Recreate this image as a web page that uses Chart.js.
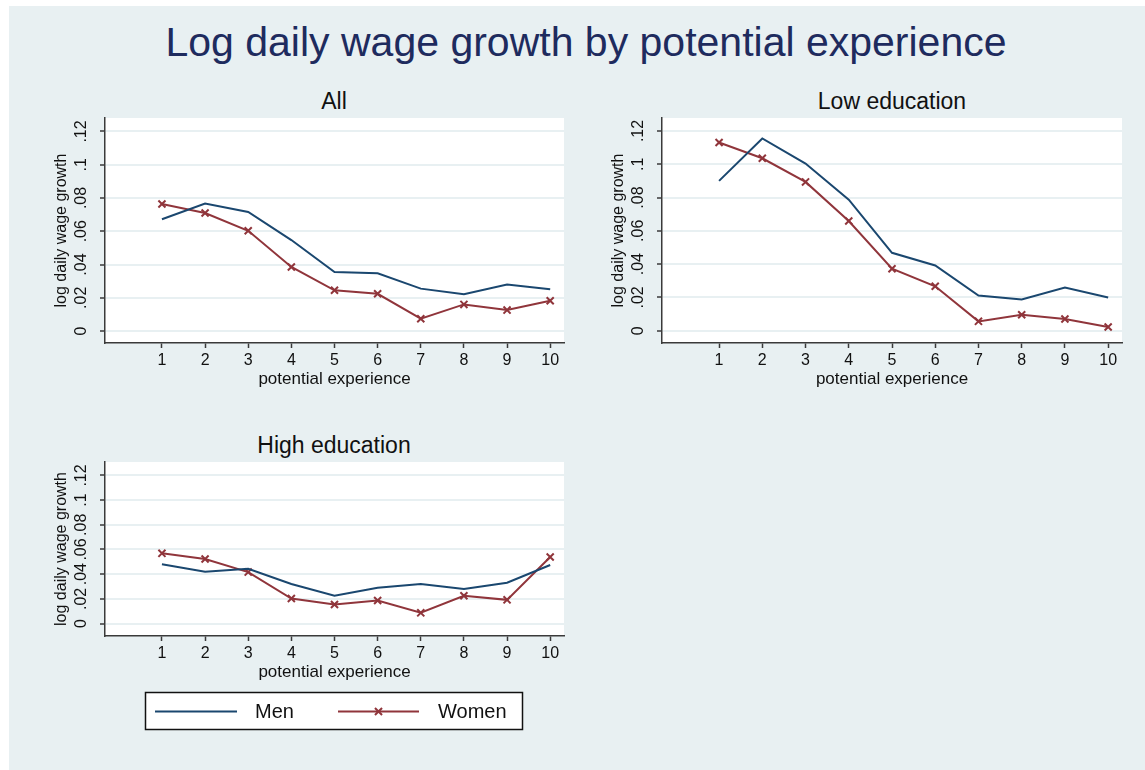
<!DOCTYPE html>
<html>
<head>
<meta charset="utf-8">
<script src="https://cdn.jsdelivr.net/npm/chart.js@4.4.1/dist/chart.umd.min.js"></script>
<style>
  body { margin: 0; width: 1145px; height: 770px; background: #fff; position: relative; overflow: hidden;
         font-family: "Liberation Sans", Arial, sans-serif; }
  #bg { position: absolute; left: 9px; top: 6px; right: 0; bottom: 0; background: #e8f0f2; }
  .txt { position: absolute; text-align: center; white-space: nowrap; }
  #mainTitle { left: 0; width: 1172px; top: 21px; font-size: 41px; line-height: 42px; color: #1e2b5e; }
  .sub { font-size: 23px; line-height: 24px; color: #111; width: 400px; }
  canvas { position: absolute; }
</style>
</head>
<body>
<div id="bg"></div>
<div id="mainTitle" class="txt">Log daily wage growth by potential experience</div>
<div class="txt sub" style="left:134px; top:89px;">All</div>
<div class="txt sub" style="left:692px; top:89px;">Low education</div>
<div class="txt sub" style="left:134px; top:433px;">High education</div>

<canvas id="chartAll" width="540" height="283" style="left:40px; top:108px;"></canvas>
<canvas id="chartLow" width="541" height="283" style="left:597px; top:108px;"></canvas>
<canvas id="chartHigh" width="540" height="283" style="left:40px; top:452px;"></canvas>

<script>
// potential experience (years)
var experience = [1, 2, 3, 4, 5, 6, 7, 8, 9, 10];

// log daily wage growth
var allMen     = [0.0672, 0.0766, 0.0716, 0.0547, 0.0355, 0.0347, 0.0255, 0.0221, 0.0279, 0.0251];
var allWomen   = [0.0764, 0.0710, 0.0603, 0.0385, 0.0245, 0.0224, 0.0074, 0.0160, 0.0126, 0.0182];
var lowMen     = [0.0900, 0.1155, 0.1004, 0.0787, 0.0468, 0.0392, 0.0211, 0.0187, 0.0259, 0.0199];
var lowWomen   = [0.1131, 0.1036, 0.0894, 0.0659, 0.0372, 0.0267, 0.0056, 0.0096, 0.0070, 0.0022];
var highMen    = [0.0480, 0.0420, 0.0444, 0.0320, 0.0225, 0.0290, 0.0320, 0.0279, 0.0331, 0.0474];
var highWomen  = [0.0569, 0.0523, 0.0417, 0.0203, 0.0154, 0.0187, 0.0087, 0.0225, 0.0192, 0.0539];

var yTicks = [0, 0.02, 0.04, 0.06, 0.08, 0.1, 0.12];
var yTickLabels = ['0', '.02', '.04', '.06', '.08', '.1', '.12'];
var seriesNames = ['Men', 'Women'];

var menColor = '#1a476f';
var womenColor = '#90353b';
var axisColor = '#3a3a3a';
var gridColor = '#e8f0f2';
var fontFamily = '"Liberation Sans", Arial, sans-serif';

function pairs(vals) {
    return experience.map(function(x, i) { return {x: x, y: vals[i]}; });
}

// white plot region
var plotBg = {
    id: 'plotBg',
    beforeDraw: function(chart) {
        var a = chart.chartArea, ctx = chart.ctx;
        ctx.save();
        ctx.fillStyle = '#fff';
        ctx.fillRect(a.left, a.top, a.right - a.left, a.bottom - a.top);
        ctx.restore();
    }
};

// vertical y tick labels like stata
var yLabels = {
    id: 'yLabels',
    afterDraw: function(chart) {
        var scale = chart.scales.y, ctx = chart.ctx;
        ctx.save();
        ctx.fillStyle = '#111';
        ctx.font = '16px ' + fontFamily;
        ctx.textAlign = 'center';
        ctx.textBaseline = 'middle';
        yTicks.forEach(function(v, i) {
            var py = scale.getPixelForValue(v);
            ctx.save();
            ctx.translate(chart.chartArea.left - 23, py);
            ctx.rotate(-Math.PI / 2);
            ctx.fillText(yTickLabels[i], 0, 0);
            ctx.restore();
        });
        ctx.restore();
    }
};

// legend box under the last panel
var legendBox = {
    id: 'legendBox',
    afterDraw: function(chart) {
        if (!chart.options.plugins.legendBox || !chart.options.plugins.legendBox.show) return;
        var ctx = chart.ctx;
        var ds = chart.data.datasets;
        ctx.save();
        ctx.fillStyle = '#fff';
        ctx.fillRect(105, 240, 378, 38);
        ctx.strokeStyle = '#111';
        ctx.lineWidth = 1.5;
        ctx.strokeRect(105.5, 240.5, 377, 37);

        var y = 259.5;
        var items = [{x0: 115, x1: 197, tx: 215}, {x0: 298, x1: 379, tx: 398}];
        items.forEach(function(it, i) {
            ctx.strokeStyle = ds[i].borderColor;
            ctx.lineWidth = 2;
            ctx.beginPath();
            ctx.moveTo(it.x0, y);
            ctx.lineTo(it.x1, y);
            ctx.stroke();
            if (ds[i].pointStyle && ds[i].pointRadius > 0) {
                ctx.fillStyle = ds[i].borderColor;
                Chart.helpers.drawPoint(ctx, {
                    pointStyle: ds[i].pointStyle, radius: ds[i].pointRadius,
                    rotation: 0, borderWidth: ds[i].pointBorderWidth
                }, (it.x0 + it.x1) / 2, y);
            }
            ctx.fillStyle = '#111';
            ctx.font = '20px ' + fontFamily;
            ctx.textAlign = 'left';
            ctx.textBaseline = 'middle';
            ctx.fillText(ds[i].label, it.tx, y + 1);
        });
        ctx.restore();
    }
};

function makePanel(id, men, women, yMin, yMax, bottomPad, showLegend) {
    var ctx = document.getElementById(id);
    return new Chart(ctx, {
        type: 'line',
        data: {
            datasets: [{
                label: seriesNames[0],
                data: pairs(men),
                borderColor: menColor,
                backgroundColor: menColor,
                borderWidth: 2,
                pointRadius: 0,
                tension: 0
            }, {
                label: seriesNames[1],
                data: pairs(women),
                borderColor: womenColor,
                backgroundColor: womenColor,
                borderWidth: 2,
                pointStyle: 'crossRot',
                pointRadius: 5,
                pointBorderWidth: 2,
                pointBorderColor: womenColor,
                tension: 0
            }]
        },
        options: {
            responsive: false,
            animation: false,
            devicePixelRatio: 1,
            layout: { padding: { left: 0, top: 10, right: 16, bottom: bottomPad } },
            plugins: {
                legend: { display: false },
                tooltip: { enabled: false },
                legendBox: { show: showLegend }
            },
            scales: {
                x: {
                    type: 'linear',
                    min: -0.32,
                    max: 10.32,
                    afterBuildTicks: function(scale) {
                        scale.ticks = experience.map(function(v) { return {value: v}; });
                    },
                    afterFit: function(scale) { scale.height = 48; },
                    ticks: {
                        color: '#111',
                        padding: 3,
                        maxRotation: 0,
                        autoSkip: false,
                        font: { family: fontFamily, size: 16 }
                    },
                    grid: {
                        drawOnChartArea: false,
                        tickLength: 5,
                        tickColor: axisColor,
                        tickWidth: 1.5
                    },
                    border: { display: true, color: axisColor, width: 1.5 },
                    title: {
                        display: true,
                        text: 'potential experience',
                        color: '#111',
                        font: { family: fontFamily, size: 17 },
                        padding: { top: 0, bottom: 1 }
                    }
                },
                y: {
                    min: yMin,
                    max: yMax,
                    afterBuildTicks: function(scale) {
                        scale.ticks = yTicks.map(function(v) { return {value: v}; });
                    },
                    afterFit: function(scale) { scale.width = 65; },
                    ticks: { display: false },
                    grid: {
                        color: gridColor,
                        lineWidth: 2,
                        tickLength: 5,
                        tickColor: axisColor,
                        tickWidth: 1.5
                    },
                    border: { display: true, color: axisColor, width: 1.5 },
                    title: {
                        display: true,
                        text: 'log daily wage growth',
                        color: '#111',
                        font: { family: fontFamily, size: 16 },
                        padding: { top: 12, bottom: 0 }
                    }
                }
            }
        },
        plugins: [plotBg, yLabels, legendBox]
    });
}

var chartAll = makePanel('chartAll', allMen, allWomen, -0.0072, 0.1281, 0, false);
var chartLow = makePanel('chartLow', lowMen, lowWomen, -0.0074, 0.1278, 0, false);
var chartHigh = makePanel('chartHigh', highMen, highWomen, -0.0101, 0.1309, 51, true);
</script>
</body>
</html>
